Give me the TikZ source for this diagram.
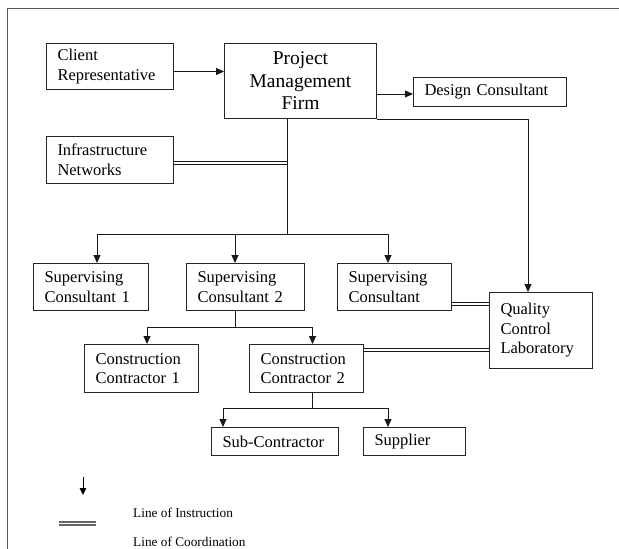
\documentclass[tikz,border=0pt]{standalone}
\usepackage{fontspec}
\setmainfont{Liberation Serif}
\usetikzlibrary{arrows.meta}
\begin{document}
\begin{tikzpicture}[x=1pt,y=-1pt,
  box/.style={draw=black!85, line width=1pt, anchor=north west, inner ysep=0pt,
    inner xsep=11pt, align=left, font=\fontsize{16.5}{19.5}\selectfont},
  arr/.style={line width=1pt, draw=black!90, -{Triangle[length=8pt,width=7pt]}},
  ln/.style={line width=1pt, draw=black!90},
  cline/.style={line width=1pt, draw=black!90}]
\useasboundingbox (0,0) rectangle (619,549);
% frame
\draw[line width=1pt, draw=black!65] (7,549) -- (7,8.5) -- (619,8.5);
% nodes
\node[box, minimum width=127pt, minimum height=46pt, text width=105pt] (cr) at (46,43) {Client\\Representative};
\node[box, minimum width=152pt, minimum height=75pt, text width=130pt, align=center,
  font=\fontsize{19.5}{22.5}\selectfont] (pmf) at (224,43) {Project\\Management\\Firm};
\node[box, minimum width=153pt, minimum height=29pt, text width=131pt] (dc) at (413,77) {Design Consultant};
\node[box, minimum width=127pt, minimum height=47pt, text width=105pt] (inf) at (46,136) {Infrastructure\\Networks};
\node[box, minimum width=115pt, minimum height=47pt, text width=93pt] (sc1) at (33,263) {Supervising\\Consultant 1};
\node[box, minimum width=118pt, minimum height=47pt, text width=96pt] (sc2) at (186,263) {Supervising\\Consultant 2};
\node[box, minimum width=114pt, minimum height=47pt, text width=92pt] (sc3) at (337,263) {Supervising\\Consultant};
\node[box, minimum width=103pt, minimum height=76pt, text width=81pt] (qcl) at (489,292) {Quality\\Control\\Laboratory};
\node[box, minimum width=114pt, minimum height=48pt, text width=92pt] (cc1) at (84,344) {Construction\\Contractor 1};
\node[box, minimum width=114pt, minimum height=48pt, text width=92pt] (cc2) at (249,344) {Construction\\Contractor 2};
\node[box, minimum width=127pt, minimum height=28pt, text width=105pt] (sub) at (211,427) {Sub-Contractor};
\node[box, minimum width=102pt, minimum height=28pt, text width=80pt] (sup) at (363,427) {Supplier};
% helper coordinates
\coordinate (ya) at (0,71.5);
\coordinate (yb) at (0,94);
\coordinate (xm) at (287,0);
\coordinate (b1) at (287,234);
\coordinate (xq) at (528,0);
\coordinate (x1) at (97,0);
\coordinate (x2) at (235,0);
\coordinate (x3) at (388,0);
\coordinate (b2) at (235,327);
\coordinate (x4) at (147,0);
\coordinate (x5) at (312.5,0);
\coordinate (b3) at (312.5,408);
\coordinate (x6) at (223,0);
\coordinate (x7) at (388,0);
\coordinate (yc1) at (0,161.7);
\coordinate (yc2) at (0,164.5);
\coordinate (yd1) at (0,302.7);
\coordinate (yd2) at (0,305.5);
\coordinate (ye1) at (0,348.7);
\coordinate (ye2) at (0,351.5);
% instruction lines
\draw[arr] (cr.east |- ya) -- (pmf.west |- ya);
\draw[arr] (pmf.east |- yb) -- (dc.west |- yb);
\draw[ln] (pmf.south -| xm) -- (b1);
\draw[arr] (pmf.south east) -- (pmf.south east -| xq) -- (qcl.north -| xq);
\draw[arr] (b1 -| x1) -- (sc1.north -| x1);
\draw[arr] (b1 -| x1) -- (b1 -| x3) -- (sc3.north -| x3);
\draw[arr] (b1 -| x2) -- (sc2.north -| x2);
\draw[ln] (sc2.south -| x2) -- (b2);
\draw[arr] (b2) -- (b2 -| x4) -- (cc1.north -| x4);
\draw[arr] (b2) -- (b2 -| x5) -- (cc2.north -| x5);
\draw[ln] (cc2.south -| x5) -- (b3);
\draw[arr] (b3) -- (b3 -| x6) -- (sub.north -| x6);
\draw[arr] (b3) -- (b3 -| x7) -- (sup.north -| x7);
% coordination lines (double)
\draw[cline] (inf.east |- yc1) -- (xm |- yc1);
\draw[cline] (inf.east |- yc2) -- (xm |- yc2);
\draw[cline] (sc3.east |- yd1) -- (qcl.west |- yd1);
\draw[cline] (sc3.east |- yd2) -- (qcl.west |- yd2);
\draw[cline] (cc2.east |- ye1) -- (qcl.west |- ye1);
\draw[cline] (cc2.east |- ye2) -- (qcl.west |- ye2);
% legend
\coordinate (la) at (83,477);
\coordinate (lb) at (83,495);
\draw[line width=1pt, -{Triangle[length=7pt,width=6.5pt]}] (la) -- (lb);
\coordinate (lc) at (59,522);
\coordinate (ld) at (96,522);
\coordinate (le) at (59,525);
\coordinate (lf) at (96,525);
\draw[line width=1.1pt, draw=black!60] (lc) -- (ld);
\draw[line width=1.1pt, draw=black!60] (le) -- (lf);
\node[anchor=west, inner sep=0pt, font=\fontsize{13.3}{15}\selectfont] (li) at (133,513) {Line of Instruction};
\node[anchor=west, inner sep=0pt, font=\fontsize{13.3}{15}\selectfont] (lco) at (133,542) {Line of Coordination};
\end{tikzpicture}
\end{document}
